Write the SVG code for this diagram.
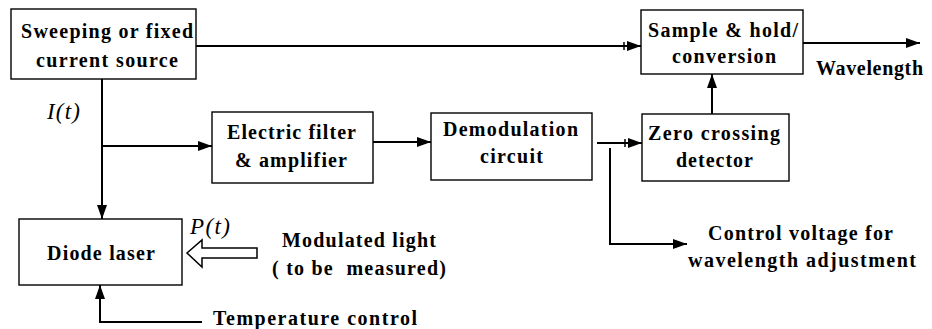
<svg xmlns="http://www.w3.org/2000/svg" width="932" height="329" viewBox="0 0 932 329">
<defs>
<style>
.box{fill:#fff;stroke:#000;stroke-width:1.4}
.ln{fill:none;stroke:#000;stroke-width:2}
</style>
<marker id="arr" markerUnits="userSpaceOnUse" markerWidth="15" markerHeight="11" refX="14" refY="5" orient="auto">
<path d="M0,0 L14,5 L0,10 z" fill="#000"/>
</marker>
<marker id="arrbar" markerUnits="userSpaceOnUse" markerWidth="19" markerHeight="11" refX="18" refY="5" orient="auto">
<path d="M1,1 V9" stroke="#000" stroke-width="1.5"/>
<path d="M4,0 L18,5 L4,10 z" fill="#000"/>
</marker>
</defs>
<rect width="932" height="329" fill="#fff"/>
<g id="connectors">
<line class="ln" x1="196" y1="46" x2="641" y2="46" marker-end="url(#arrbar)"/>
<line class="ln" x1="102" y1="79" x2="102" y2="219" marker-end="url(#arr)"/>
<line class="ln" x1="102" y1="146" x2="212" y2="146" marker-end="url(#arr)"/>
<line class="ln" x1="373" y1="142" x2="431" y2="142" marker-end="url(#arr)"/>
<line class="ln" x1="597" y1="143" x2="642" y2="143" marker-end="url(#arrbar)"/>
<polyline class="ln" points="610,148 610,244 687,244" marker-end="url(#arr)"/>
<line class="ln" x1="712" y1="114" x2="712" y2="74" marker-end="url(#arr)"/>
<line class="ln" x1="803" y1="43" x2="920" y2="43" marker-end="url(#arr)"/>
<polyline class="ln" points="202,322 100,322 100,285" marker-end="url(#arr)"/>
<polygon points="187,253 202,240 202,248 257,248 257,258 202,258 202,267" fill="#fff" stroke="#000" stroke-width="1.5"/>
</g>
<g font-family="Liberation Serif, serif" font-weight="bold" font-size="20" fill="#000">
<g id="source">
<rect class="box" x="11" y="9" width="185" height="70"/>
<text x="21" y="38" textLength="172" lengthAdjust="spacing">Sweeping or fixed</text>
<text x="36" y="67" textLength="142" lengthAdjust="spacing">current source</text>
</g>
<g id="sample">
<rect class="box" x="641" y="10" width="162" height="64"/>
<text x="648" y="37" textLength="150" lengthAdjust="spacing">Sample &amp; hold/</text>
<text x="672" y="63" textLength="104" lengthAdjust="spacing">conversion</text>
</g>
<g id="filter">
<rect class="box" x="212" y="112" width="161" height="71"/>
<text x="227" y="139" textLength="129" lengthAdjust="spacing">Electric filter</text>
<text x="235" y="167" textLength="112" lengthAdjust="spacing">&amp; amplifier</text>
</g>
<g id="demod">
<rect class="box" x="431" y="113" width="161" height="67"/>
<text x="443" y="136" textLength="135" lengthAdjust="spacing">Demodulation</text>
<text x="480" y="163" textLength="63" lengthAdjust="spacing">circuit</text>
</g>
<g id="zero">
<rect class="box" x="642" y="114" width="147" height="67"/>
<text x="648" y="140" textLength="132" lengthAdjust="spacing">Zero crossing</text>
<text x="676" y="167" textLength="77" lengthAdjust="spacing">detector</text>
</g>
<g id="diode">
<rect class="box" x="19" y="219" width="163" height="66"/>
<text x="47" y="260" textLength="108" lengthAdjust="spacing">Diode laser</text>
</g>
<g id="labels">
<text font-weight="normal" font-style="italic" font-size="23" x="47" y="119" textLength="33" lengthAdjust="spacing">I(t)</text>
<text font-weight="normal" font-style="italic" font-size="23" x="190" y="234" textLength="40" lengthAdjust="spacing">P(t)</text>
<text x="816" y="75" textLength="107" lengthAdjust="spacing">Wavelength</text>
<text x="282" y="247" textLength="154" lengthAdjust="spacing">Modulated light</text>
<text x="272" y="275" textLength="174" lengthAdjust="spacing" xml:space="preserve">( to be  measured)</text>
<text x="213" y="325" textLength="204" lengthAdjust="spacing">Temperature control</text>
<text x="708" y="240" textLength="185" lengthAdjust="spacing">Control voltage for</text>
<text x="688" y="267" textLength="228" lengthAdjust="spacing">wavelength adjustment</text>
</g>
</g>
</svg>
